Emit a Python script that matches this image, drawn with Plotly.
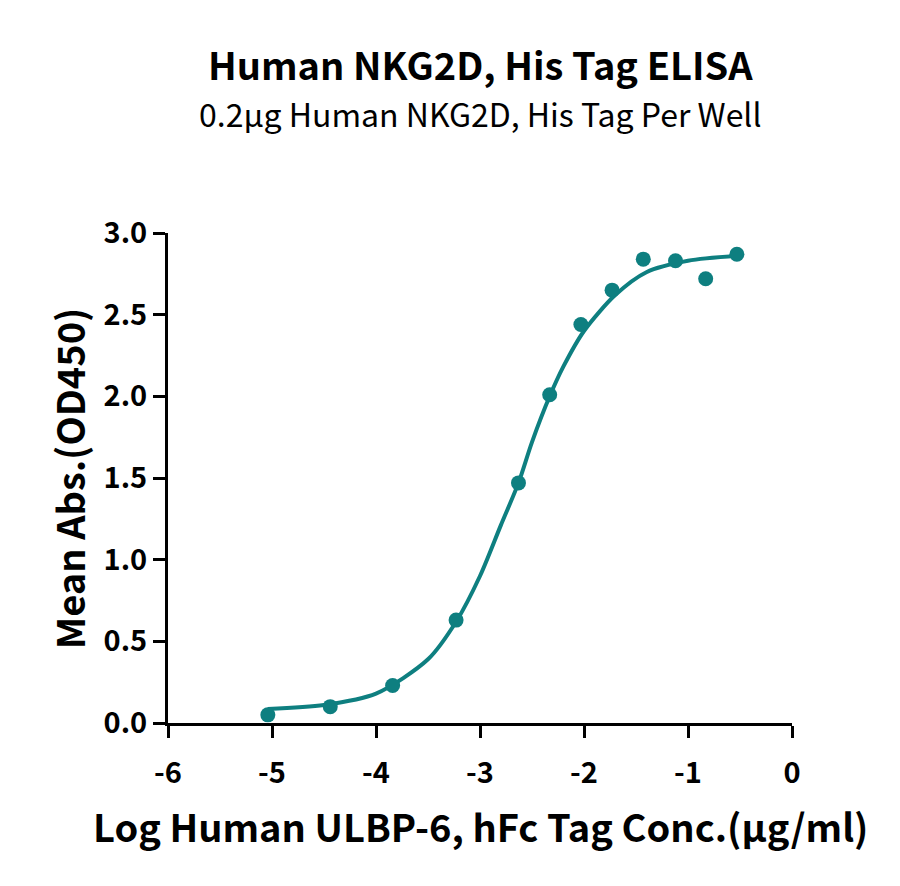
import plotly.graph_objects as go

# measured points (log conc, mean OD450)
log_conc = [-5.04, -4.44, -3.84, -3.23, -2.63, -2.33, -2.03, -1.73, -1.43, -1.12, -0.83, -0.53]
mean_abs = [0.05, 0.10, 0.23, 0.63, 1.47, 2.01, 2.44, 2.65, 2.84, 2.83, 2.72, 2.87]

# fitted curve
curve_x = [-5.04, -4.5, -4.0, -3.5, -3.23, -3.0, -2.8, -2.63, -2.5, -2.33, -2.2, -2.0, -1.7, -1.4, -1.0, -0.53]
curve_y = [0.085, 0.11, 0.18, 0.39, 0.62, 0.90, 1.21, 1.47, 1.72, 2.00, 2.18, 2.40, 2.62, 2.76, 2.83, 2.86]

x_tick_vals = [-6, -5, -4, -3, -2, -1, 0]
x_tick_text = ["-6", "-5", "-4", "-3", "-2", "-1", "0"]
y_tick_vals = [0.0, 0.5, 1.0, 1.5, 2.0, 2.5, 3.0]

teal = "#0E7F80"
font = "Noto Sans CJK SC"

fig = go.Figure()
fig.add_trace(
    go.Scatter(
        x=curve_x,
        y=curve_y,
        mode="lines",
        line=dict(color=teal, width=4, shape="spline", smoothing=0.8),
        hoverinfo="skip",
        cliponaxis=False,
    )
)
fig.add_trace(
    go.Scatter(
        x=log_conc,
        y=mean_abs,
        mode="markers",
        marker=dict(color=teal, size=15),
        cliponaxis=False,
    )
)

axis_common = dict(
    showgrid=False,
    zeroline=False,
    showline=True,
    linecolor="black",
    linewidth=3,
    ticks="outside",
    ticklen=12,
    tickwidth=3,
    tickcolor="black",
    tickfont=dict(family=font, size=29, color="black", weight="bold"),
)

fig.update_xaxes(
    range=[-6, 0],
    tickvals=x_tick_vals,
    ticktext=x_tick_text,
    ticklabelstandoff=10,
    **axis_common,
)
fig.update_yaxes(
    range=[0, 3],
    tickvals=y_tick_vals,
    tickformat=".1f",
    **axis_common,
)

fig.add_annotation(
    text="<b>Human NKG2D, His Tag ELISA</b>",
    xref="paper", yref="paper", x=0.5, y=1.345,
    showarrow=False, yanchor="middle",
    font=dict(family=font, size=38, color="black"),
)
fig.add_annotation(
    text="0.2μg Human NKG2D, His Tag Per Well",
    xref="paper", yref="paper", x=0.5, y=1.245,
    showarrow=False, yanchor="middle",
    font=dict(family=font, size=32, color="black"),
)
fig.add_annotation(
    text="<b>Mean Abs.(OD450)</b>",
    xref="paper", yref="paper", x=-0.160, y=0.5,
    textangle=-90, showarrow=False,
    xanchor="center", yanchor="middle",
    font=dict(family=font, size=38, color="black"),
)
fig.add_annotation(
    text="<b>Log Human ULBP-6, hFc Tag Conc.(μg/ml)</b>",
    xref="paper", yref="paper", x=0.5, y=-0.21,
    showarrow=False, xanchor="center", yanchor="middle",
    font=dict(family=font, size=38, color="black"),
)

fig.update_layout(
    width=900,
    height=886,
    margin=dict(l=160, r=116, t=225, b=171),
    plot_bgcolor="white",
    paper_bgcolor="white",
    showlegend=False,
)

fig.write_html("out.html")
